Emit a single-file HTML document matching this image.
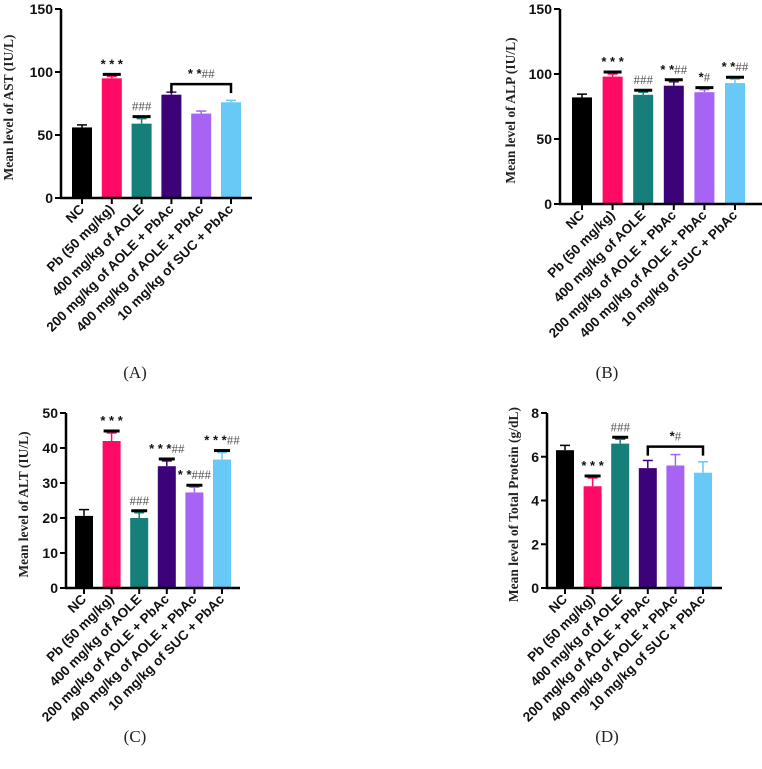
<!DOCTYPE html>
<html><head><meta charset="utf-8"><style>
body{margin:0;background:#fff;width:762px;height:769px;overflow:hidden}
svg{display:block}
.t{font-family:"Liberation Sans",Arial,sans-serif;font-weight:bold;fill:#111}
.s{font-family:"Liberation Serif",serif;}
</style></head><body>
<svg id="c" width="762" height="769" viewBox="0 0 762 769"></svg>
<script>
const categories=["NC","Pb (50 mg/kg)","400 mg/kg of AOLE","200 mg/kg of AOLE + PbAc","400 mg/kg of AOLE + PbAc","10 mg/kg of SUC + PbAc"];
const colors=["#000000","#ff0a64","#177f79","#3c0378","#a763f3","#68c9f7"];
const astValues=[56,95,59,82,67,76];
const astErrors=[2,1.5,4,2,2,1.5];
const alpValues=[82,98,84,91,86,93];
const alpErrors=[2.5,2,2,3,2,3];
const altValues=[20.6,42,20,34.8,27.3,36.7];
const altErrors=[1.8,2.3,1.5,1.5,1.5,2];
const tpValues=[6.3,4.65,6.6,5.48,5.6,5.27];
const tpErrors=[0.22,0.38,0.2,0.35,0.5,0.5];
const astTicks=[0,50,100,150];
const alpTicks=[0,50,100,150];
const altTicks=[0,10,20,30,40,50];
const tpTicks=[0,2,4,6,8];
const NS="http://www.w3.org/2000/svg";
const svg=document.getElementById('c');
function mk(tag,attrs,parent,txt){const e=document.createElementNS(NS,tag);for(const k in attrs)e.setAttribute(k,attrs[k]);if(txt!==undefined)e.textContent=txt;(parent||svg).appendChild(e);return e;}
const panels=[
 {id:"ast",vals:astValues,errs:astErrors,ticks:astTicks,max:150,ax:61,y0:198,ytop:9,x0:82,dx:29.8,bw:20,xend:252,title:"Mean level of AST (IU/L)",tx:13,cap:"(A)",cx:135,cy:378,
  sig:[[1,"* * *",""],[2,"","###"]],bracket:[3,5,"* *","##"]},
 {id:"alp",vals:alpValues,errs:alpErrors,ticks:alpTicks,max:150,ax:560,y0:204,ytop:9,x0:582,dx:30.6,bw:20,xend:762,title:"Mean level of ALP (IU/L)",tx:515,cap:"(B)",cx:607,cy:378,
  sig:[[1,"* * *",""],[2,"","###"],[3,"* *","##"],[4,"*","#"],[5,"* *","##"]]},
 {id:"alt",vals:altValues,errs:altErrors,ticks:altTicks,max:50,ax:66,y0:588,ytop:413,x0:84,dx:27.6,bw:18,xend:240,title:"Mean level of ALT (IU/L)",tx:28,cap:"(C)",cx:135,cy:742,
  sig:[[1,"* * *",""],[2,"","###"],[3,"* * *","##"],[4,"* *","###"],[5,"* * *","##"]]},
 {id:"tp",vals:tpValues,errs:tpErrors,ticks:tpTicks,max:8,ax:547,y0:588,ytop:413,x0:565,dx:27.6,bw:18,xend:722,title:"Mean level of Total Protein (g/dL)",tx:518,cap:"(D)",cx:607,cy:742,
  sig:[[1,"* * *",""],[2,"","###"]],bracket:[3,5,"*","#"]}
];
panels.forEach(p=>{
 const g=mk('g',{});
 
 
 const Y=v=>p.y0-(v/p.max)*(p.y0-p.ytop);
 const X=i=>p.x0+i*p.dx;
 p.vals.forEach((v,i)=>{
  const b=mk('rect',{x:X(i)-p.bw/2,y:Y(v),width:p.bw,height:p.y0-Y(v),fill:colors[i]},g);
  
  
  const e=p.errs[i];
  mk('line',{x1:X(i),x2:X(i),y1:Y(v),y2:Y(v+e),stroke:colors[i],'stroke-width':1.5},g);
  mk('line',{x1:X(i)-5,x2:X(i)+5,y1:Y(v+e),y2:Y(v+e),stroke:colors[i],'stroke-width':1.5},g);
 });
 const ya=mk('line',{x1:p.ax,x2:p.ax,y1:p.ytop,y2:p.y0+1,stroke:'#000','stroke-width':2.5},g);
 
 
 const xa=mk('line',{x1:p.ax-1,x2:p.xend,y1:p.y0,y2:p.y0,stroke:'#000','stroke-width':2.5},g);
 
 
 p.ticks.forEach(t=>{
  mk('line',{x1:p.ax-6,x2:p.ax,y1:Y(t),y2:Y(t),stroke:'#000','stroke-width':2},g);
  const tl=mk('text',{x:p.ax-8,y:Y(t)+5,'text-anchor':'end','font-size':14,class:'t'},g,String(t));
  
  
 });
 categories.forEach((c,i)=>{
  mk('line',{x1:X(i),x2:X(i),y1:p.y0,y2:p.y0+6,stroke:'#000','stroke-width':2},g);
  const xl=mk('text',{x:X(i)+3,y:p.y0+12,'text-anchor':'end','font-size':13.5,class:'t',transform:`rotate(-45 ${X(i)+3} ${p.y0+12})`},g,c);
  
  
 });
 const midY=(p.ytop+p.y0)/2+4;
 const yt=mk('text',{x:p.tx,y:midY,'text-anchor':'middle','font-size':13.5,'font-weight':'bold',class:'s',fill:'#222',transform:`rotate(-90 ${p.tx} ${midY})`},g,p.title);
 
 
 p.sig.forEach(([i,st,hs])=>{
  const top=Y(p.vals[i]+p.errs[i])-2;
  mk('line',{x1:X(i)-p.bw/2+1,x2:X(i)+p.bw/2-1,y1:top,y2:top,stroke:'#000','stroke-width':3},g);
  const tx=mk('text',{x:X(i),y:top-6,'text-anchor':'middle','font-size':12},g);
  
  
  if(st) mk('tspan',{class:'t','font-size':13},tx,st);
  if(hs) mk('tspan',{class:'s',fill:'#555','font-size':13},tx,hs);
 });
 if(p.bracket){
  const [a,b,st,hs]=p.bracket;
  let m=0;for(let k=a;k<=b;k++)m=Math.max(m,p.vals[k]+p.errs[k]);
  const by=Y(m)-8;
  const br=mk('path',{d:`M${X(a)} ${by+9}V${by}H${X(b)}V${by+9}`,fill:'none',stroke:'#000','stroke-width':2.5},g);
  
  
  const tx=mk('text',{x:(X(a)+X(b))/2,y:by-6,'text-anchor':'middle'},g);
  
  
  mk('tspan',{class:'t','font-size':13},tx,st);
  mk('tspan',{class:'s',fill:'#555','font-size':13},tx,hs);
 }
 const cp=mk('text',{x:p.cx,y:p.cy,'text-anchor':'middle','font-size':17,class:'s',fill:'#222'},g,p.cap);
 
 
});
</script>
</body></html>
